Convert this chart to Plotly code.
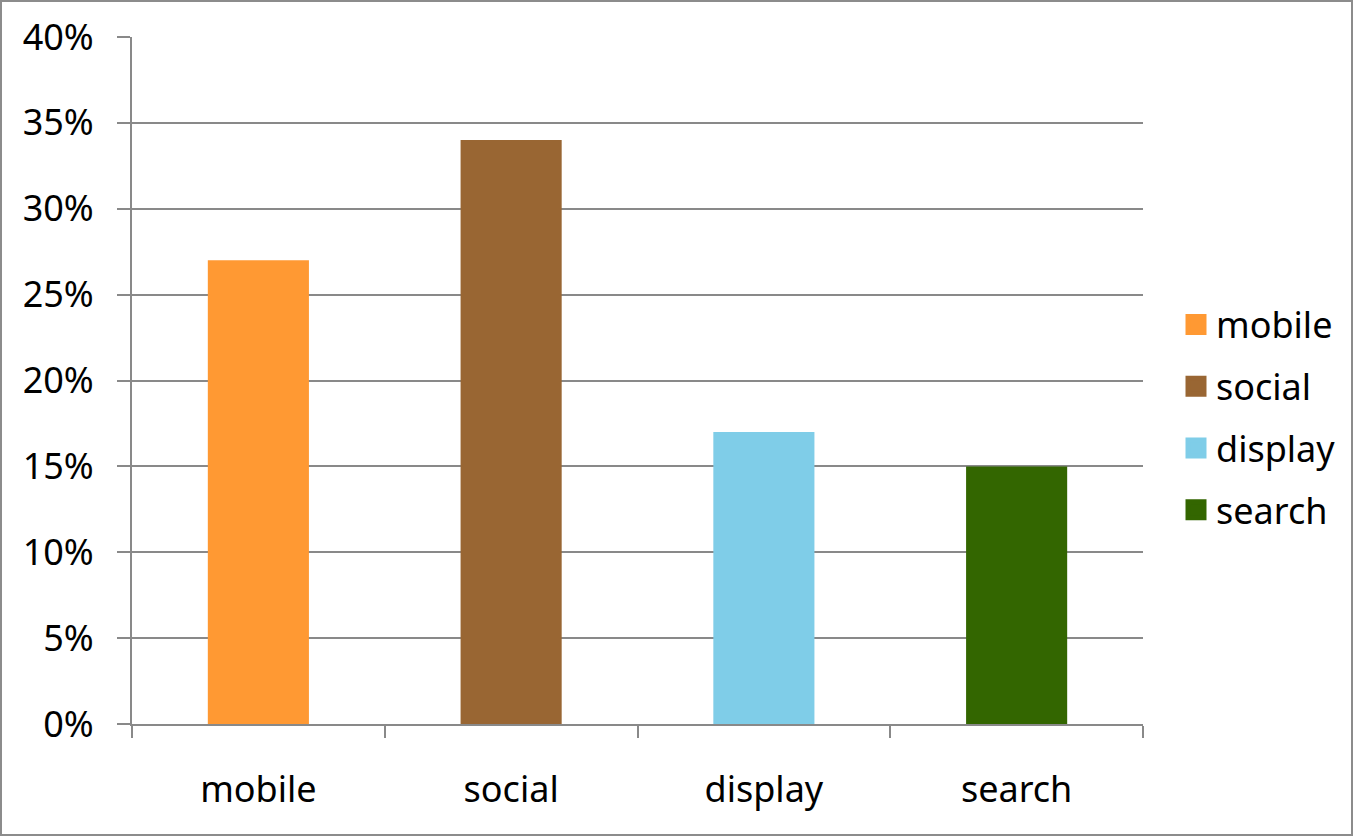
import plotly.graph_objects as go

categories = ["mobile", "social", "display", "search"]
values = [0.27, 0.34, 0.17, 0.15]
colors = ["#FF9933", "#996633", "#7FCDE8", "#336600"]
y_ticks = [0, 0.05, 0.10, 0.15, 0.20, 0.25, 0.30, 0.35, 0.40]
y_tick_labels = ["0%", "5%", "10%", "15%", "20%", "25%", "30%", "35%", "40%"]

W, H = 1354, 837
ML, MR, MT, MB = 132, 211, 37, 113
FONT = "Noto Sans"
FS = 36
GRID = "#898989"

fig = go.Figure()
for cat, val, col in zip(categories, values, colors):
    fig.add_trace(go.Bar(
        x=[cat], y=[val], name=cat, width=0.4,
        marker=dict(color=col, line=dict(width=0)),
        showlegend=False, hoverinfo="skip",
    ))
# legend entries
for cat, col in zip(categories, colors):
    fig.add_trace(go.Scatter(
        x=[cat], y=[None], name=cat, mode="markers",
        marker=dict(symbol="square", size=16, color=col, line=dict(color=col, width=5)),
        legendgroup=cat, showlegend=True, hoverinfo="skip",
    ))

pw = W - ML - MR
ph = H - MT - MB
fig.add_shape(type="rect", xref="paper", yref="paper",
              x0=(1 - ML) / pw, x1=(W - 2 - ML) / pw,
              y0=-(MB - 2) / ph, y1=1 + (MT - 1) / ph,
              line=dict(color="#8C8C8C", width=2), fillcolor="rgba(0,0,0,0)", layer="below")

fig.update_layout(
    width=W, height=H,
    margin=dict(l=ML, r=MR, t=MT, b=MB, pad=0),
    paper_bgcolor="white", plot_bgcolor="white",
    font=dict(family=FONT, size=FS, color="black"),
    bargap=0.6,
    legend=dict(x=1.0 + 33 / pw, xanchor="left", y=0.5 - 37 / ph, yanchor="middle",
                font=dict(size=FS, family=FONT), tracegroupgap=12,
                itemsizing="trace", bgcolor="rgba(0,0,0,0)"),
    xaxis=dict(
        type="category", categoryorder="array", categoryarray=categories,
        showline=True, linecolor=GRID, linewidth=2,
        ticks="outside", tickson="boundaries", ticklen=12, tickwidth=2, tickcolor=GRID,
        showgrid=False, zeroline=False, ticklabelstandoff=33,
        tickfont=dict(size=FS, family=FONT),
    ),
    yaxis=dict(
        range=[0, 0.40], tickvals=y_ticks, ticktext=y_tick_labels,
        showline=True, linecolor=GRID, linewidth=2,
        ticks="outside", ticklen=13, tickwidth=2, tickcolor=GRID,
        showgrid=True, gridcolor=GRID, gridwidth=1.5, zeroline=False,
        ticklabelstandoff=16, tickfont=dict(size=FS, family=FONT),
    ),
)

fig.write_html("out.html")
